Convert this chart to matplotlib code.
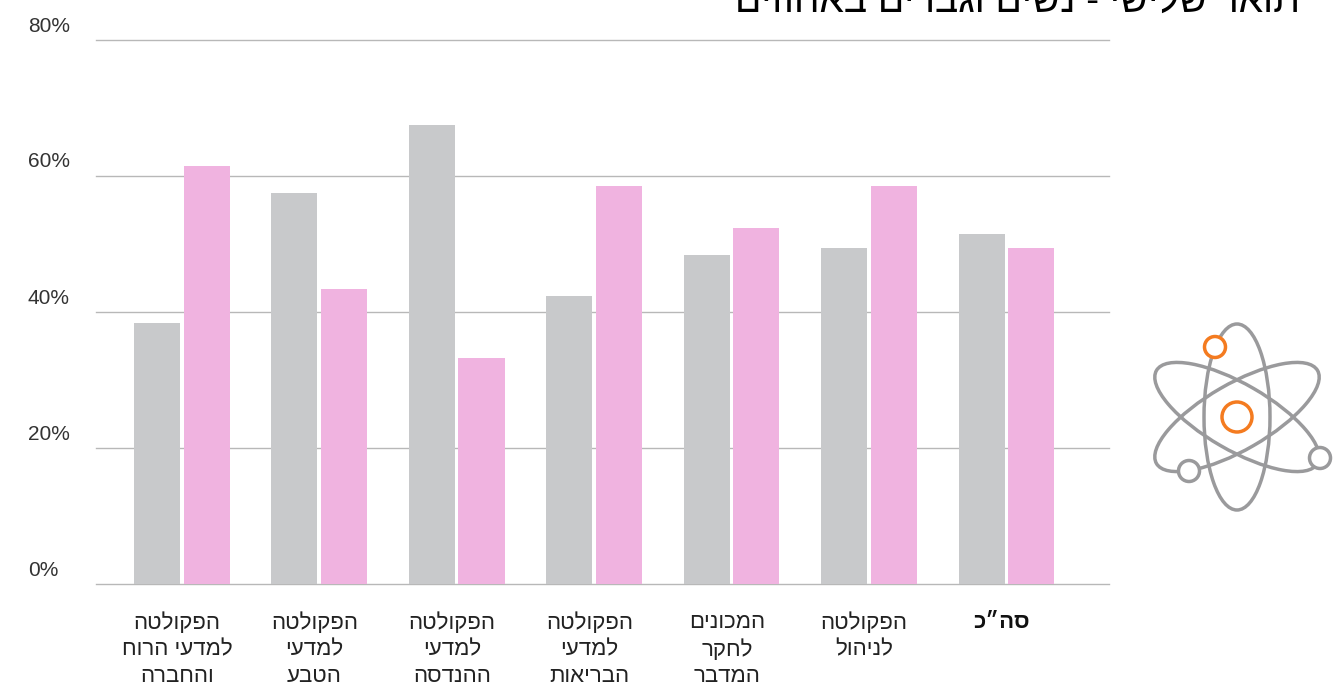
import numpy as np
import matplotlib
matplotlib.use('Agg')
import matplotlib.pyplot as plt
from matplotlib.patches import Ellipse, Circle

# 0. data
title = 'תואר שלישי - נשים וגברים באחוזים'
categories = ['הפקולטה\nלמדעי הרוח\nוהחברה', 'הפקולטה\nלמדעי\nהטבע', 'הפקולטה\nלמדעי\nההנדסה',
              'הפקולטה\nלמדעי\nהבריאות', 'המכונים\nלחקר\nהמדבר', 'הפקולטה\nלניהול', 'סה״כ']
men = [38.4, 57.5, 67.5, 42.4, 48.4, 49.4, 51.5]
women = [61.5, 43.4, 33.3, 58.5, 52.4, 58.5, 49.4]
y_ticks = [0, 20, 40, 60, 80]

plt.rcParams['font.family'] = ['Liberation Sans', 'DejaVu Sans']


def rtl(s):
    # matplotlib has no bidi, so put each line in visual order
    return '\n'.join(line[::-1] for line in s.split('\n'))


W, H = 1338, 689
fig = plt.figure(figsize=(W / 100, H / 100), dpi=100)

# 1. bars
ax = fig.add_axes([96 / W, 1 - 584 / H, (1108.5 - 96) / W, (584 - 40) / H])
x = np.arange(len(categories))
ax.bar(x - 0.182, men, width=0.335, color='#c8c9cb', zorder=2)
ax.bar(x + 0.179, women, width=0.335, color='#f0b3e0', zorder=2)
ax.set_xlim(-0.625, 6.74)
ax.set_ylim(0, 80)

for s in ax.spines.values():
    s.set_visible(False)
ax.set_xticks([])
ax.set_yticks(y_ticks)
ax.set_yticklabels([])
ax.tick_params(length=0)
ax.grid(axis='y', color='#b8b8b8', lw=1, clip_on=False)
ax.set_axisbelow(True)
for v in y_ticks:
    ax.annotate('%d%%' % v, (0, v), xycoords=('axes fraction', 'data'), xytext=(-68, 14),
                textcoords='offset pixels', ha='left', va='center', fontsize=15, color='#333333',
                annotation_clip=False)

# 2. category labels under the axis
for i, c in enumerate(categories):
    last = i == len(categories) - 1
    ax.annotate(rtl(c), (i, 0), xycoords=('data', 'axes fraction'), xytext=(-5, -28),
                textcoords='offset pixels', ha='center', va='top', ma='center', fontsize=16,
                color='#222222' if not last else '#111111', fontweight='bold' if last else 'normal',
                linespacing=1.36, annotation_clip=False)

# 3. title, cut by the top edge as in the original
fig.text(1300 / W, 1 - 12 / H, rtl(title), ha='right', va='baseline', fontsize=28, color='black')

# 4. atom icon, drawn in pixel coordinates on a full-figure layer
icon = fig.add_axes([0, 0, 1, 1], facecolor='none')
icon.set_xlim(0, W)
icon.set_ylim(H, 0)
icon.axis('off')
gray = '#9a9a9c'
orange = '#f47b20'
for ang in [0, 60, -60]:
    icon.add_patch(Ellipse((1237, 417), 66, 186, angle=ang, fill=False, ec=gray, lw=2.5))
icon.add_patch(Circle((1237, 417), 15, fc='white', ec=orange, lw=2.5))
icon.add_patch(Circle((1215, 347), 10.5, fc='white', ec=orange, lw=2.5))
icon.add_patch(Circle((1320, 458), 10.5, fc='white', ec=gray, lw=2.5))
icon.add_patch(Circle((1189, 471), 10.5, fc='white', ec=gray, lw=2.5))

plt.savefig('out.png', dpi=100)
